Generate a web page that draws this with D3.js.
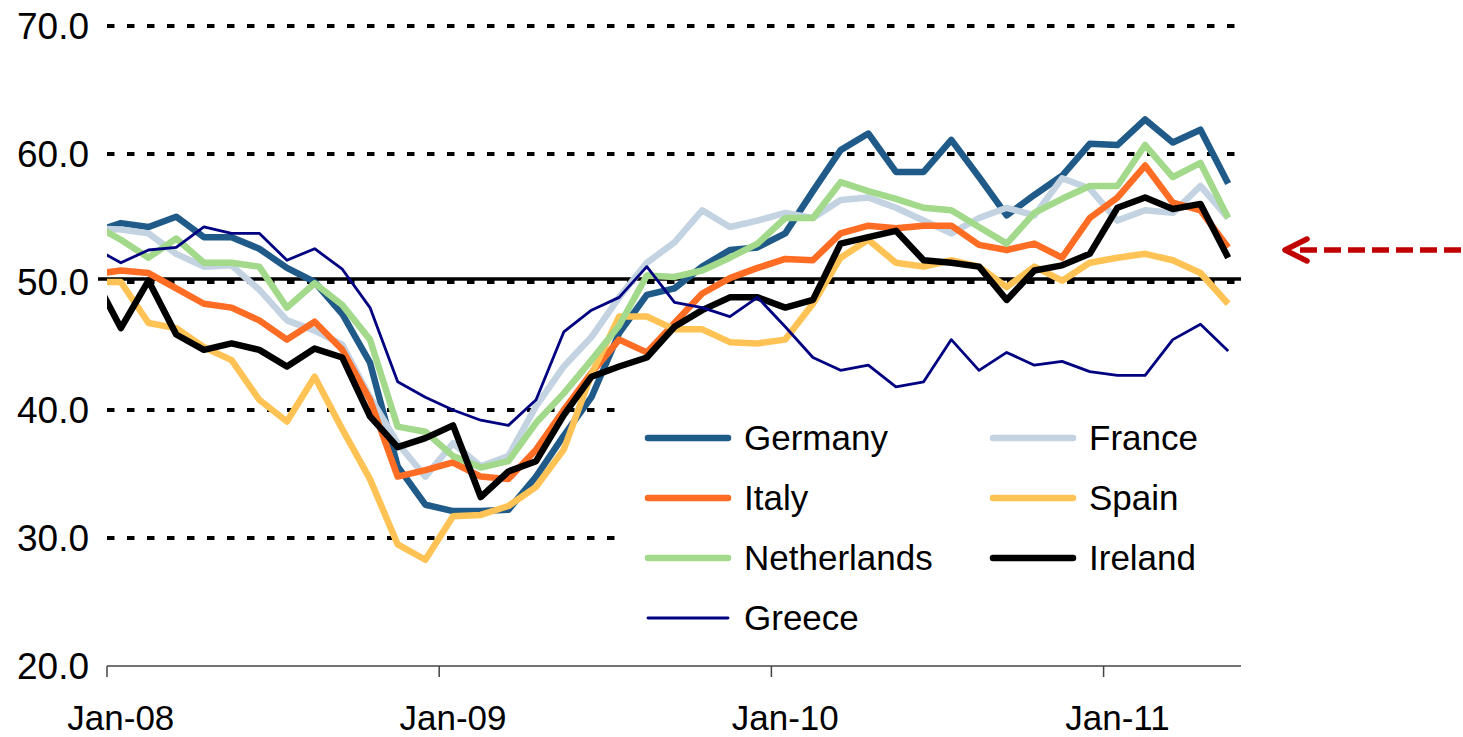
<!DOCTYPE html>
<html>
<head>
<meta charset="UTF-8">
<script src="https://cdn.jsdelivr.net/npm/d3@7"></script>
<style>
  body { margin: 0; background: #fff; }
  svg { display: block; font-family: 'Liberation Sans', Arial, sans-serif; }
</style>
</head>
<body>
<svg id="chart" width="1463" height="737"></svg>
<script>
// monthly PMI readings, Dec-07 (clipped at the left edge) to May-11
var months = ["Dec-07",
  "Jan-08","Feb-08","Mar-08","Apr-08","May-08","Jun-08","Jul-08","Aug-08","Sep-08","Oct-08","Nov-08","Dec-08",
  "Jan-09","Feb-09","Mar-09","Apr-09","May-09","Jun-09","Jul-09","Aug-09","Sep-09","Oct-09","Nov-09","Dec-09",
  "Jan-10","Feb-10","Mar-10","Apr-10","May-10","Jun-10","Jul-10","Aug-10","Sep-10","Oct-10","Nov-10","Dec-10",
  "Jan-11","Feb-11","Mar-11","Apr-11","May-11"];

var germany = [53.9,
  54.6, 54.3, 55.1, 53.5, 53.5, 52.6, 51.1, 50.0, 47.5, 43.7, 35.6, 32.6,
  32.1, 32.1, 32.2, 34.8, 38.0, 41.0, 46.0, 49.0, 49.5, 51.2, 52.5, 52.7,
  53.8, 57.1, 60.3, 61.6, 58.6, 58.6, 61.1, 58.2, 55.2, 56.8, 58.3, 60.8,
  60.7, 62.7, 60.9, 61.9, 57.7];
var france = [54.2,
  54.1, 53.8, 52.2, 51.2, 51.3, 49.4, 47.0, 46.2, 45.1, 41.0, 37.4, 34.8,
  37.4, 35.6, 36.4, 40.3, 43.4, 45.7, 48.8, 51.5, 53.1, 55.6, 54.3, 54.8,
  55.4, 55.0, 56.4, 56.6, 55.8, 54.8, 53.8, 55.0, 55.8, 55.2, 58.1, 57.3,
  54.8, 55.6, 55.4, 57.5, 55.0];
var italy = [50.6,
  50.9, 50.7, 49.5, 48.3, 48.0, 47.0, 45.5, 46.9, 44.7, 40.8, 34.8, 35.3,
  35.9, 34.8, 34.6, 36.9, 40.0, 42.9, 45.5, 44.5, 46.8, 49.1, 50.3, 51.1,
  51.8, 51.7, 53.8, 54.4, 54.2, 54.4, 54.4, 52.9, 52.5, 53.0, 51.9, 55.0,
  56.6, 59.1, 56.2, 55.6, 52.7];
var spain = [50.0,
  50.0, 46.8, 46.4, 44.9, 43.9, 40.8, 39.1, 42.6, 38.5, 34.6, 29.5, 28.3,
  31.7, 31.8, 32.5, 34.0, 36.9, 42.8, 47.3, 47.3, 46.3, 46.3, 45.3, 45.2,
  45.5, 48.3, 51.9, 53.3, 51.5, 51.2, 51.7, 51.2, 49.6, 51.2, 50.1, 51.5,
  51.9, 52.2, 51.7, 50.7, 48.3];
var netherlands = [54.5,
  53.3, 51.9, 53.4, 51.5, 51.5, 51.2, 48.0, 49.9, 48.2, 45.5, 38.7, 38.3,
  36.4, 35.5, 36.0, 39.0, 41.3, 43.9, 46.6, 50.5, 50.4, 50.9, 51.9, 53.0,
  55.0, 55.0, 57.8, 57.1, 56.5, 55.8, 55.6, 54.3, 53.0, 55.4, 56.5, 57.5,
  57.5, 60.7, 58.2, 59.3, 55.0];
var ireland = [50.5,
  46.4, 50.1, 45.9, 44.7, 45.2, 44.7, 43.4, 44.8, 44.1, 39.5, 37.1, 37.8,
  38.8, 33.2, 35.2, 36.0, 39.6, 42.6, 43.4, 44.1, 46.5, 47.8, 48.8, 48.8,
  48.0, 48.6, 53.0, 53.5, 54.0, 51.7, 51.5, 51.2, 48.6, 50.9, 51.3, 52.2,
  55.8, 56.6, 55.7, 56.1, 51.9];
var greece = [52.7,
  51.5, 52.5, 52.7, 54.3, 53.8, 53.8, 51.7, 52.6, 51.0, 48.0, 42.2, 41.0,
  40.0, 39.2, 38.8, 40.8, 46.1, 47.8, 48.8, 51.2, 48.4, 48.0, 47.3, 48.8,
  46.5, 44.1, 43.1, 43.5, 41.8, 42.2, 45.5, 43.1, 44.5, 43.5, 43.8, 43.0,
  42.7, 42.7, 45.5, 46.7, 44.6];

var yTicks = [20, 30, 40, 50, 60, 70];
var xTickLabels = ["Jan-08", "Jan-09", "Jan-10", "Jan-11"];

var series = [
  { name: "Germany", values: germany, color: "#1f5a89", width: 6.5 },
  { name: "France", values: france, color: "#c3d3e2", width: 6.5 },
  { name: "Italy", values: italy, color: "#ff6c24", width: 6.5 },
  { name: "Spain", values: spain, color: "#ffc355", width: 6.5 },
  { name: "Netherlands", values: netherlands, color: "#a2d98b", width: 6.5 },
  { name: "Ireland", values: ireland, color: "#000000", width: 6.5 },
  { name: "Greece", values: greece, color: "#000080", width: 2.8 }
];

var svg = d3.select("#chart");

// month index: 0 = start of Jan-08, points sit mid-month
var x = d3.scaleLinear().domain([0, 41]).range([107, 1242]);
var y = d3.scaleLinear().domain([20, 70]).range([666, 26]);

function px(k) { return x(k - 0.5); } // k = position in the arrays (0 = Dec-07)

// dotted gridlines
svg.append("g").selectAll("line")
  .data(yTicks.filter(function (d) { return d > 20; }))
  .enter().append("line")
  .attr("x1", 107)
  .attr("x2", function (d) { return d >= 50 ? 1241 : 620; })
  .attr("y1", function (d) { return y(d); })
  .attr("y2", function (d) { return y(d); })
  .attr("stroke", "#000")
  .attr("stroke-width", 4)
  .attr("stroke-dasharray", "7.5,12.5");

// solid 50 line
svg.append("line")
  .attr("x1", 98).attr("x2", 1241)
  .attr("y1", y(50) - 3).attr("y2", y(50) - 3)
  .attr("stroke", "#000").attr("stroke-width", 3.5);

// y labels
svg.append("g").selectAll("text")
  .data(yTicks)
  .enter().append("text")
  .attr("x", 89)
  .attr("y", function (d) { return y(d) + 13; })
  .attr("text-anchor", "end")
  .style("font-size", "37px")
  .attr("fill", "#000")
  .text(function (d) { return d.toFixed(1); });

// x axis
svg.append("line")
  .attr("x1", 107).attr("x2", 1241)
  .attr("y1", 666).attr("y2", 666)
  .attr("stroke", "#444").attr("stroke-width", 1.5);

svg.append("g").selectAll("line")
  .data(xTickLabels)
  .enter().append("line")
  .attr("x1", function (d, i) { return x(i * 12); })
  .attr("x2", function (d, i) { return x(i * 12); })
  .attr("y1", 666).attr("y2", 677)
  .attr("stroke", "#444").attr("stroke-width", 1.5);

svg.append("g").selectAll("text")
  .data(xTickLabels)
  .enter().append("text")
  .attr("x", function (d) { return px(months.indexOf(d)); })
  .attr("y", 730)
  .attr("text-anchor", "middle")
  .style("font-size", "35px")
  .text(function (d) { return d; });

// series
svg.append("clipPath").attr("id", "plot")
  .append("rect").attr("x", 107).attr("y", 0).attr("width", 1135).attr("height", 700);

var line = d3.line()
  .x(function (d, k) { return px(k); })
  .y(function (d) { return y(d); });

svg.append("g").attr("clip-path", "url(#plot)")
  .selectAll("path")
  .data(series)
  .enter().append("path")
  .attr("d", function (s) { return line(s.values); })
  .attr("fill", "none")
  .attr("stroke", function (s) { return s.color; })
  .attr("stroke-width", function (s) { return s.width; })
  .attr("stroke-linejoin", "round");

// legend
var legendPos = [
  [648, 438], [993, 438],
  [648, 498], [993, 498],
  [648, 558], [993, 558],
  [648, 618]
];
var leg = svg.append("g").selectAll("g")
  .data(series)
  .enter().append("g")
  .attr("transform", function (s, i) { return "translate(" + legendPos[i][0] + "," + legendPos[i][1] + ")"; });

leg.append("line")
  .attr("x1", 0).attr("x2", function (s, i) { return i % 2 ? 80 : 80; })
  .attr("y1", 0).attr("y2", 0)
  .attr("stroke", function (s) { return s.color; })
  .attr("stroke-width", function (s) { return s.width; })
  .attr("stroke-linecap", "round");

leg.append("text")
  .attr("x", 96)
  .attr("y", 12)
  .style("font-size", "35px")
  .text(function (s) { return s.name; });

// red dashed arrow on the right
svg.append("line")
  .attr("x1", 1300).attr("x2", 1463)
  .attr("y1", 250).attr("y2", 250)
  .attr("stroke", "#c00000").attr("stroke-width", 5.5)
  .attr("stroke-dasharray", "17,7");

svg.append("path")
  .attr("d", d3.line()([[1307, 239], [1285, 250], [1307, 261]]))
  .attr("fill", "none")
  .attr("stroke", "#c00000").attr("stroke-width", 5.5)
  .attr("stroke-linecap", "round").attr("stroke-linejoin", "round");
</script>
</body>
</html>
